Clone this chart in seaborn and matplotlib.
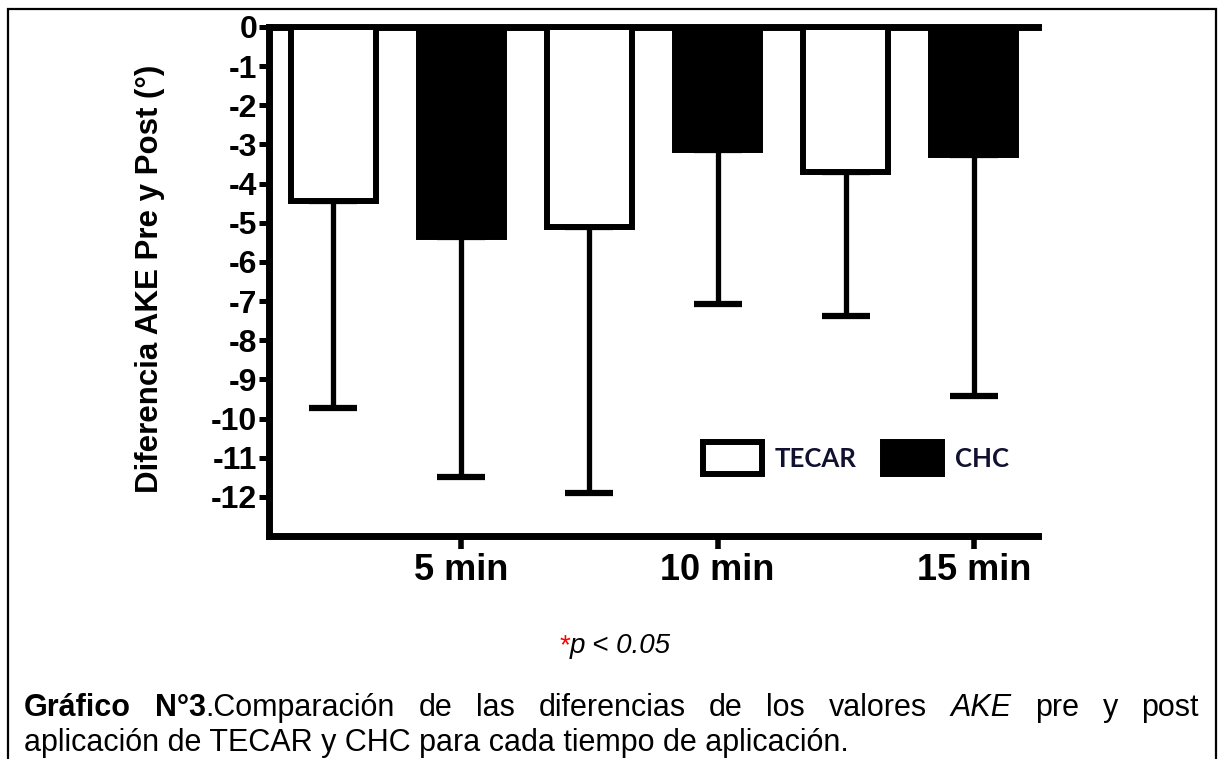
import numpy as np
import pandas as pd
import matplotlib
matplotlib.use("Agg")
import matplotlib.pyplot as plt
from matplotlib.patches import Patch, Rectangle
import seaborn as sns

# ---------------- data ----------------
times = ["5 min", "10 min", "15 min"]
groups = ["TECAR", "CHC"]
tecar_mean = [-4.45, -5.1, -3.7]
tecar_sd = [5.28, 6.8, 3.68]
chc_mean = [-5.36, -3.14, -3.27]
chc_sd = [6.13, 3.93, 6.15]
y_ticks = list(range(0, -13, -1))
y_tick_labels = [str(v) for v in y_ticks]
y_label = "Diferencia AKE Pre y Post (°)"
p_note = "p < 0.05"
caption_line1 = [("Gráfico", "bold", "normal"), ("N°3", "bold", "normal"),
                 (".Comparación", "normal", "normal"), ("de", "normal", "normal"),
                 ("las", "normal", "normal"), ("diferencias", "normal", "normal"),
                 ("de", "normal", "normal"), ("los", "normal", "normal"),
                 ("valores", "normal", "normal"), ("AKE", "normal", "italic"),
                 ("pre", "normal", "normal"), ("y", "normal", "normal"),
                 ("post", "normal", "normal")]
caption_line2 = "aplicación de TECAR y CHC para cada tiempo de aplicación."

df = pd.DataFrame({
    "time": times * 2,
    "group": [groups[0]] * 3 + [groups[1]] * 3,
    "mean": tecar_mean + chc_mean,
})

sns.set_style("white")
plt.rcParams["font.family"] = ["Liberation Sans", "DejaVu Sans"]
for k in ["text.color", "axes.labelcolor", "xtick.color", "ytick.color",
          "axes.edgecolor"]:
    plt.rcParams[k] = "black"

W, H = 1218, 759
fig = plt.figure(figsize=(W / 100, H / 100), dpi=100)
ax = fig.add_axes([269 / W, (H - 536) / H, 769 / W, 509 / H])

lw_bar = 4.3
sns.barplot(data=df, x="time", y="mean", hue="group", order=times,
            hue_order=groups, palette={"TECAR": "white", "CHC": "black"},
            edgecolor="black", linewidth=lw_bar, width=1.0, gap=0.337,
            errorbar=None, saturation=1, legend=False, ax=ax, zorder=3)

# one-sided (downward) SD error bars
for cont, sds in zip(ax.containers, [tecar_sd, chc_sd]):
    for bar, sd in zip(cont, sds):
        xc = bar.get_x() + bar.get_width() / 2
        yv = bar.get_y() + bar.get_height()
        ax.errorbar(xc, yv, yerr=[[sd], [0]], fmt="none", ecolor="black",
                    elinewidth=3.8, capsize=17.5, capthick=4.5, zorder=2)

ax.set_xlim(-0.5, 2.5)
ax.set_ylim(-13, 0)
ax.set_yticks(y_ticks, labels=y_tick_labels)
ax.set_xticks(np.arange(len(times)) + 0.25, labels=times)

for side in ["left", "top", "bottom"]:
    ax.spines[side].set_visible(True)
    ax.spines[side].set_linewidth(5)
    ax.spines[side].set_color("black")
    ax.spines[side].set_capstyle("projecting")
ax.spines["right"].set_visible(False)

ax.tick_params(axis="y", direction="out", length=7.5, width=3.6, pad=1,
               labelsize=23, left=True, colors="black")
ax.tick_params(axis="x", direction="out", length=9, width=4, pad=3,
               labelsize=26, bottom=True, colors="black")
for lab in ax.get_yticklabels() + ax.get_xticklabels():
    lab.set_fontweight("bold")

ax.set_xlabel("")
ax.set_ylabel(y_label, fontsize=22.5, fontweight="bold", color="black")
ax.yaxis.set_label_coords(-0.135, 0.505)

# legend
handles = [Patch(facecolor="white", edgecolor="black", linewidth=lw_bar),
           Patch(facecolor="black", edgecolor="black", linewidth=lw_bar)]
leg = ax.legend(handles, groups, loc="center left",
                bbox_to_anchor=(0.5644, 0.153), ncol=2, frameon=False,
                borderpad=0, borderaxespad=0, handlelength=2.28,
                handleheight=1.52, handletextpad=0.5, columnspacing=1.05,
                prop={"family": ["Lato", "DejaVu Sans"], "weight": "bold",
                      "size": 18.5})
for t in leg.get_texts():
    t.set_color("#101030")

# outer frame
fig.add_artist(Rectangle((8 / W, -0.05), (1216 - 8) / W, 1.05 - 8.5 / H,
                         transform=fig.transFigure, fill=False,
                         edgecolor="black", linewidth=1.6))

# p-note
star = fig.text(556 / W, (H - 653) / H, "*", color="red", fontsize=20,
                ha="left", va="baseline")
fig.canvas.draw()
r = fig.canvas.get_renderer()
pn = fig.text(0, (H - 653) / H, p_note, fontsize=20, style="italic",
              ha="left", va="baseline")
sw = star.get_window_extent(r).width
pw = pn.get_window_extent(r).width
start = 615 - (sw + pw) / 2
star.set_x(start / W)
pn.set_x((start + sw) / W)

# caption line 1 (justified)
y1 = (H - 716) / H
texts = []
for word, wt, st in caption_line1:
    texts.append(fig.text(0, y1, word, fontsize=22, fontweight=wt, style=st,
                          ha="left", va="baseline"))
widths = [t.get_window_extent(r).width for t in texts]
# units: "N°3" is glued to ".Comparación"
units = [[0], [1, 2]] + [[i] for i in range(3, len(texts))]
unit_w = [sum(widths[i] for i in u) for u in units]
left, right = 24, 1199
gap = (right - left - sum(unit_w)) / (len(units) - 1)
x = left
for u, uw in zip(units, unit_w):
    xx = x
    for i in u:
        texts[i].set_x(xx / W)
        xx += widths[i]
    x += uw + gap

fig.text(24 / W, (H - 751) / H, caption_line2, fontsize=22, ha="left",
         va="baseline")

fig.savefig("out.png", dpi=100)
